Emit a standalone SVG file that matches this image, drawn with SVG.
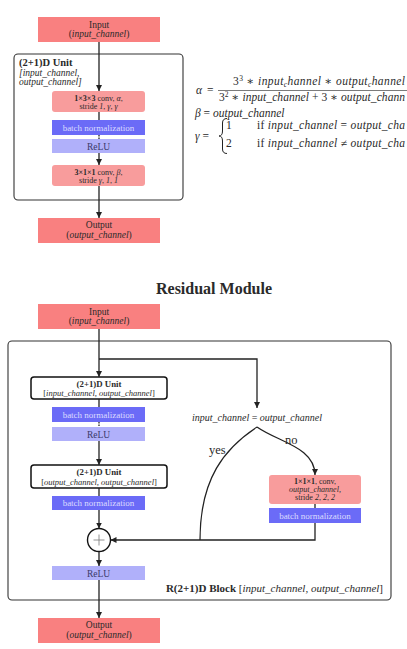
<svg xmlns="http://www.w3.org/2000/svg" width="407" height="649" viewBox="0 0 407 649">
<style>
text{font-family:"Liberation Serif","DejaVu Serif",serif;fill:#2a2a2a}
.io{fill:#f98080}
.conv{fill:#f89c9c}
.bn{fill:#6b6bf7}
.relu{fill:#b0b0fa}
.c{text-anchor:middle}
.it{font-style:italic}
.b{font-weight:bold}
.ln{stroke:#222;stroke-width:1.3;fill:none}
.frame{fill:none;stroke:#333;stroke-width:1.1}
.ubox{fill:#fff;stroke:#111;stroke-width:1.5}
.bnt{fill:#dcdcff;font-size:9px}
.rt{fill:#3a3a6a;font-size:9.5px}
.io-t{font-size:9.5px}
.f{font-size:11.5px}
</style>
<defs>
<marker id="ar" viewBox="0 0 6 6" refX="6" refY="3" markerWidth="6" markerHeight="6" markerUnits="userSpaceOnUse" orient="auto">
<path d="M0,0 L6,3 L0,6 z" fill="#222"/>
</marker>
</defs>

<!-- ===== Top: (2+1)D unit ===== -->
<g id="unit-frame">
<rect class="frame" x="14" y="54" width="169" height="146" rx="4"/>
<text x="19" y="66" font-size="10.5" class="b">(2+1)D Unit</text>
<text x="19" y="75.5" font-size="9.5" class="it">[input_channel,</text>
<text x="19" y="85" font-size="9.5" class="it">output_channel]</text>
</g>
<g id="input1">
<rect class="io" x="38" y="17" width="122" height="25"/>
<text x="99" y="27.5" class="c io-t">Input</text>
<text x="99" y="37" class="c io-t">(<tspan class="it">input_channel</tspan>)</text>
</g>
<g id="conv1">
<rect class="conv" x="52" y="91" width="93" height="21" rx="3"/>
<text x="98.5" y="100.5" font-size="8" class="c"><tspan class="b">1×3×3</tspan> conv, <tspan class="it">α</tspan>,</text>
<text x="98.5" y="109" font-size="8" class="c">stride <tspan class="it">1</tspan>, <tspan class="it">γ</tspan>, <tspan class="it">γ</tspan></text>
</g>
<g id="bn1">
<rect class="bn" x="52" y="120" width="93" height="15"/>
<text x="98.5" y="130.5" class="c bnt">batch normalization</text>
</g>
<g id="relu1">
<rect class="relu" x="52" y="139" width="93" height="14"/>
<text x="98.5" y="149.5" class="c rt">ReLU</text>
</g>
<g id="conv2">
<rect class="conv" x="52" y="165" width="93" height="21" rx="3"/>
<text x="98.5" y="174.5" font-size="8" class="c"><tspan class="b">3×1×1</tspan> conv, <tspan class="it">β</tspan>,</text>
<text x="98.5" y="183" font-size="8" class="c">stride  <tspan class="it">γ</tspan>, <tspan class="it">1</tspan>, <tspan class="it">1</tspan></text>
</g>
<g id="output1">
<rect class="io" x="38" y="218" width="122" height="25"/>
<text x="99" y="228" class="c io-t">Output</text>
<text x="99" y="238" class="c io-t">(<tspan class="it">output_channel</tspan>)</text>
</g>

<!-- formulas -->
<g id="formulas">
<text x="196" y="94" class="f it">α</text>
<text x="207" y="94" class="f">=</text>
<text x="233" y="85" class="f" textLength="172" lengthAdjust="spacing">3<tspan font-size="7.5" dy="-4.5">3</tspan><tspan dy="4.5"> ∗ </tspan><tspan class="it">input</tspan><tspan class="it" font-size="7.5" dy="2">c</tspan><tspan class="it" dy="-2">hannel</tspan> ∗ <tspan class="it">output</tspan><tspan class="it" font-size="7.5" dy="2">c</tspan><tspan class="it" dy="-2">hannel</tspan></text>
<line x1="218" y1="90.5" x2="407" y2="90.5" stroke="#222" stroke-width="0.6"/>
<text x="219" y="101" class="f" textLength="186" lengthAdjust="spacing">3<tspan font-size="7.5" dy="-4.5">2</tspan><tspan dy="4.5"> ∗ </tspan><tspan class="it">input_channel</tspan> + 3 ∗ <tspan class="it">output_chann</tspan></text>
<text x="195" y="117" class="f"><tspan class="it">β</tspan> = <tspan class="it">output_channel</tspan></text>
<text x="195" y="140" class="f"><tspan class="it">γ</tspan> =</text>
<path d="M227,118.5 Q222.5,118.5 222.5,123 L222.5,131 Q222.5,136 219,136 Q222.5,136 222.5,141 L222.5,149 Q222.5,153.5 227,153.5" fill="none" stroke="#222" stroke-width="1"/>
<text x="226" y="129" class="f">1</text>
<text x="257" y="129" class="f" textLength="148" lengthAdjust="spacing">if <tspan class="it">input_channel</tspan> = <tspan class="it">output_cha</tspan></text>
<text x="226" y="147" class="f">2</text>
<text x="257" y="147" class="f" textLength="148" lengthAdjust="spacing">if <tspan class="it">input_channel</tspan> ≠ <tspan class="it">output_cha</tspan></text>
</g>

<!-- ===== Residual module ===== -->
<text x="214" y="294" font-size="16" class="c b">Residual Module</text>
<g id="block-frame">
<rect class="frame" x="8" y="341" width="383" height="259" rx="4"/>
<text x="383" y="592" font-size="11" text-anchor="end"><tspan class="b">R(2+1)D Block</tspan> [<tspan class="it">input_channel, output_channel</tspan>]</text>
</g>
<g id="input2">
<rect class="io" x="38" y="304" width="122" height="25"/>
<text x="99" y="314.5" class="c io-t">Input</text>
<text x="99" y="324" class="c io-t">(<tspan class="it">input_channel</tspan>)</text>
</g>
<g id="unitA">
<rect class="ubox" x="31" y="377" width="136" height="22" rx="3"/>
<text x="99" y="387" font-size="8.8" class="c b">(2+1)D Unit</text>
<text x="99" y="396" font-size="8.5" class="c">[<tspan class="it">input_channel, output_channel</tspan>]</text>
</g>
<g id="bnA">
<rect class="bn" x="52" y="407" width="93" height="15"/>
<text x="98.5" y="417.5" class="c bnt">batch normalization</text>
</g>
<g id="reluA">
<rect class="relu" x="52" y="427" width="93" height="14"/>
<text x="98.5" y="437.5" class="c rt">ReLU</text>
</g>
<g id="unitB">
<rect class="ubox" x="31" y="465" width="136" height="23" rx="3"/>
<text x="99" y="475" font-size="8.8" class="c b">(2+1)D Unit</text>
<text x="99" y="484.5" font-size="8.5" class="c">[<tspan class="it">output_channel, output_channel</tspan>]</text>
</g>
<g id="bnB">
<rect class="bn" x="52" y="496" width="93" height="14"/>
<text x="98.5" y="506" class="c bnt">batch normalization</text>
</g>
<g id="plus">
<circle cx="99" cy="540" r="11.5" fill="#fff" stroke="#111" stroke-width="1.4"/>
<path d="M93.5,540 H104.5 M99,534.5 V545.5" stroke="#777" stroke-width="0.8"/>
</g>
<g id="reluB">
<rect class="relu" x="52" y="566" width="93" height="14"/>
<text x="98.5" y="576.5" class="c rt">ReLU</text>
</g>
<g id="output2">
<rect class="io" x="38" y="618" width="122" height="25"/>
<text x="99" y="628" class="c io-t">Output</text>
<text x="99" y="638" class="c io-t">(<tspan class="it">output_channel</tspan>)</text>
</g>
<g id="cond">
<text x="257" y="420.5" font-size="10" class="c"><tspan class="it">input_channel</tspan> = <tspan class="it">output_channel</tspan></text>
</g>
<g id="convC">
<rect class="conv" x="269" y="475" width="92" height="29" rx="3"/>
<text x="315" y="484" font-size="8" class="c"><tspan class="b">1×1×1</tspan>, conv,</text>
<text x="315" y="492" font-size="8" class="c it">output_channel,</text>
<text x="315" y="500" font-size="8" class="c">stride <tspan class="it">2</tspan>, <tspan class="it">2</tspan>, <tspan class="it">2</tspan></text>
</g>
<g id="bnC">
<rect class="bn" x="269" y="508" width="92" height="15"/>
<text x="315" y="518.5" class="c bnt">batch normalization</text>
</g>

<g id="connectors">
<line class="ln" x1="99" y1="42" x2="99" y2="91" marker-end="url(#ar)"/>
<line class="ln" x1="99" y1="112" x2="99" y2="120"/>
<line class="ln" x1="99" y1="135" x2="99" y2="139" stroke-dasharray="1.5,1"/>
<line class="ln" x1="99" y1="153" x2="99" y2="165" marker-end="url(#ar)"/>
<line class="ln" x1="99" y1="186" x2="99" y2="218" marker-end="url(#ar)"/>

<line class="ln" x1="99" y1="329" x2="99" y2="377" marker-end="url(#ar)"/>
<polyline class="ln" points="99,359 257,359 257,408" marker-end="url(#ar)"/>
<line class="ln" x1="99" y1="399" x2="99" y2="407"/>
<line class="ln" x1="99" y1="422" x2="99" y2="427" stroke-dasharray="1.5,1"/>
<line class="ln" x1="99" y1="441" x2="99" y2="465" marker-end="url(#ar)"/>
<line class="ln" x1="99" y1="488" x2="99" y2="496"/>
<line class="ln" x1="99" y1="510" x2="99" y2="528.5" marker-end="url(#ar)"/>
<line class="ln" x1="99" y1="551.5" x2="99" y2="566" marker-end="url(#ar)"/>
<line class="ln" x1="99" y1="580" x2="99" y2="618" marker-end="url(#ar)"/>
<path class="ln" d="M257,427 C225,448 200,478 200,540"/>
<path class="ln" d="M257,427 C278,442 315,447 315,475" marker-end="url(#ar)"/>
<line class="ln" x1="315" y1="504" x2="315" y2="508"/>
<polyline class="ln" points="315,523 315,540 110.5,540" marker-end="url(#ar)"/>
<text x="209" y="454" font-size="12.5">yes</text>
<text x="285" y="444" font-size="12.5">no</text>
</g>
</svg>
